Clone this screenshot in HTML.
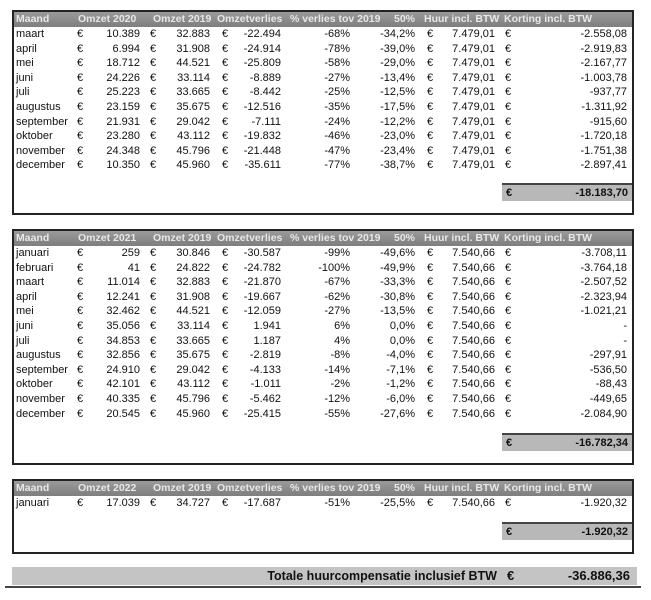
<!DOCTYPE html>
<html><head><meta charset="utf-8"><style>
body{margin:0;width:651px;height:600px;background:#fff;position:relative;overflow:hidden;font-family:"Liberation Sans",sans-serif;font-size:11px;color:#111}
.box{position:absolute;left:12px;width:622px;border:2px solid #222;box-sizing:border-box}
.r{position:absolute;left:0;height:14.6px;line-height:14.6px;width:100%}
.r span{position:absolute;white-space:nowrap}
.h{background:linear-gradient(#9a9a9a,#7e7e7e);color:#e8e8e8;height:15px;line-height:15px;top:0;font-weight:bold;font-size:10.5px}
.tot{position:absolute;left:488px;width:130px;height:16px;line-height:16px;background:#b8b8b8;border-top:2px solid #444;font-weight:bold}
.c1{left:2px}.c2{left:63px}.c3{right:492px}.c4{left:136px}.c5{right:422px}.c6{left:208px}.c7{right:351px}.c8{right:282px}.c9{right:217px}.c10{left:413px}.c11{right:137px}.c12{left:491px}.c13{right:5px}
</style></head><body>

<div class="box" style="top:10px;height:205px">
<div class="r h"><span style="left:2px">Maand</span><span style="left:64px">Omzet 2020</span><span style="left:139px">Omzet 2019</span><span style="left:203px">Omzetverlies</span><span style="left:276px">% verlies tov 2019</span><span style="left:380px">50%</span><span style="left:410px">Huur incl. BTW</span><span style="left:490px">Korting incl. BTW</span></div>
<div class="r" style="top:15px"><span class="c1">maart</span><span class="c2">€</span><span class="c3">10.389</span><span class="c4">€</span><span class="c5">32.883</span><span class="c6">€</span><span class="c7">-22.494</span><span class="c8">-68%</span><span class="c9">-34,2%</span><span class="c10">€</span><span class="c11">7.479,01</span><span class="c12">€</span><span class="c13">-2.558,08</span></div>
<div class="r" style="top:29.6px"><span class="c1">april</span><span class="c2">€</span><span class="c3">6.994</span><span class="c4">€</span><span class="c5">31.908</span><span class="c6">€</span><span class="c7">-24.914</span><span class="c8">-78%</span><span class="c9">-39,0%</span><span class="c10">€</span><span class="c11">7.479,01</span><span class="c12">€</span><span class="c13">-2.919,83</span></div>
<div class="r" style="top:44.2px"><span class="c1">mei</span><span class="c2">€</span><span class="c3">18.712</span><span class="c4">€</span><span class="c5">44.521</span><span class="c6">€</span><span class="c7">-25.809</span><span class="c8">-58%</span><span class="c9">-29,0%</span><span class="c10">€</span><span class="c11">7.479,01</span><span class="c12">€</span><span class="c13">-2.167,77</span></div>
<div class="r" style="top:58.8px"><span class="c1">juni</span><span class="c2">€</span><span class="c3">24.226</span><span class="c4">€</span><span class="c5">33.114</span><span class="c6">€</span><span class="c7">-8.889</span><span class="c8">-27%</span><span class="c9">-13,4%</span><span class="c10">€</span><span class="c11">7.479,01</span><span class="c12">€</span><span class="c13">-1.003,78</span></div>
<div class="r" style="top:73.4px"><span class="c1">juli</span><span class="c2">€</span><span class="c3">25.223</span><span class="c4">€</span><span class="c5">33.665</span><span class="c6">€</span><span class="c7">-8.442</span><span class="c8">-25%</span><span class="c9">-12,5%</span><span class="c10">€</span><span class="c11">7.479,01</span><span class="c12">€</span><span class="c13">-937,77</span></div>
<div class="r" style="top:88px"><span class="c1">augustus</span><span class="c2">€</span><span class="c3">23.159</span><span class="c4">€</span><span class="c5">35.675</span><span class="c6">€</span><span class="c7">-12.516</span><span class="c8">-35%</span><span class="c9">-17,5%</span><span class="c10">€</span><span class="c11">7.479,01</span><span class="c12">€</span><span class="c13">-1.311,92</span></div>
<div class="r" style="top:102.6px"><span class="c1">september</span><span class="c2">€</span><span class="c3">21.931</span><span class="c4">€</span><span class="c5">29.042</span><span class="c6">€</span><span class="c7">-7.111</span><span class="c8">-24%</span><span class="c9">-12,2%</span><span class="c10">€</span><span class="c11">7.479,01</span><span class="c12">€</span><span class="c13">-915,60</span></div>
<div class="r" style="top:117.2px"><span class="c1">oktober</span><span class="c2">€</span><span class="c3">23.280</span><span class="c4">€</span><span class="c5">43.112</span><span class="c6">€</span><span class="c7">-19.832</span><span class="c8">-46%</span><span class="c9">-23,0%</span><span class="c10">€</span><span class="c11">7.479,01</span><span class="c12">€</span><span class="c13">-1.720,18</span></div>
<div class="r" style="top:131.8px"><span class="c1">november</span><span class="c2">€</span><span class="c3">24.348</span><span class="c4">€</span><span class="c5">45.796</span><span class="c6">€</span><span class="c7">-21.448</span><span class="c8">-47%</span><span class="c9">-23,4%</span><span class="c10">€</span><span class="c11">7.479,01</span><span class="c12">€</span><span class="c13">-1.751,38</span></div>
<div class="r" style="top:146.4px"><span class="c1">december</span><span class="c2">€</span><span class="c3">10.350</span><span class="c4">€</span><span class="c5">45.960</span><span class="c6">€</span><span class="c7">-35.611</span><span class="c8">-77%</span><span class="c9">-38,7%</span><span class="c10">€</span><span class="c11">7.479,01</span><span class="c12">€</span><span class="c13">-2.897,41</span></div>
<div class="tot" style="top:171px"><span style="position:absolute;left:4px">€</span><span style="position:absolute;right:4px">-18.183,70</span></div>
</div>

<div class="box" style="top:229px;height:236px">
<div class="r h"><span style="left:2px">Maand</span><span style="left:64px">Omzet 2021</span><span style="left:139px">Omzet 2019</span><span style="left:203px">Omzetverlies</span><span style="left:276px">% verlies tov 2019</span><span style="left:380px">50%</span><span style="left:410px">Huur incl. BTW</span><span style="left:490px">Korting incl. BTW</span></div>
<div class="r" style="top:15px"><span class="c1">januari</span><span class="c2">€</span><span class="c3">259</span><span class="c4">€</span><span class="c5">30.846</span><span class="c6">€</span><span class="c7">-30.587</span><span class="c8">-99%</span><span class="c9">-49,6%</span><span class="c10">€</span><span class="c11">7.540,66</span><span class="c12">€</span><span class="c13">-3.708,11</span></div>
<div class="r" style="top:29.6px"><span class="c1">februari</span><span class="c2">€</span><span class="c3">41</span><span class="c4">€</span><span class="c5">24.822</span><span class="c6">€</span><span class="c7">-24.782</span><span class="c8">-100%</span><span class="c9">-49,9%</span><span class="c10">€</span><span class="c11">7.540,66</span><span class="c12">€</span><span class="c13">-3.764,18</span></div>
<div class="r" style="top:44.2px"><span class="c1">maart</span><span class="c2">€</span><span class="c3">11.014</span><span class="c4">€</span><span class="c5">32.883</span><span class="c6">€</span><span class="c7">-21.870</span><span class="c8">-67%</span><span class="c9">-33,3%</span><span class="c10">€</span><span class="c11">7.540,66</span><span class="c12">€</span><span class="c13">-2.507,52</span></div>
<div class="r" style="top:58.8px"><span class="c1">april</span><span class="c2">€</span><span class="c3">12.241</span><span class="c4">€</span><span class="c5">31.908</span><span class="c6">€</span><span class="c7">-19.667</span><span class="c8">-62%</span><span class="c9">-30,8%</span><span class="c10">€</span><span class="c11">7.540,66</span><span class="c12">€</span><span class="c13">-2.323,94</span></div>
<div class="r" style="top:73.4px"><span class="c1">mei</span><span class="c2">€</span><span class="c3">32.462</span><span class="c4">€</span><span class="c5">44.521</span><span class="c6">€</span><span class="c7">-12.059</span><span class="c8">-27%</span><span class="c9">-13,5%</span><span class="c10">€</span><span class="c11">7.540,66</span><span class="c12">€</span><span class="c13">-1.021,21</span></div>
<div class="r" style="top:88px"><span class="c1">juni</span><span class="c2">€</span><span class="c3">35.056</span><span class="c4">€</span><span class="c5">33.114</span><span class="c6">€</span><span class="c7">1.941</span><span class="c8">6%</span><span class="c9">0,0%</span><span class="c10">€</span><span class="c11">7.540,66</span><span class="c12">€</span><span class="c13">-</span></div>
<div class="r" style="top:102.6px"><span class="c1">juli</span><span class="c2">€</span><span class="c3">34.853</span><span class="c4">€</span><span class="c5">33.665</span><span class="c6">€</span><span class="c7">1.187</span><span class="c8">4%</span><span class="c9">0,0%</span><span class="c10">€</span><span class="c11">7.540,66</span><span class="c12">€</span><span class="c13">-</span></div>
<div class="r" style="top:117.2px"><span class="c1">augustus</span><span class="c2">€</span><span class="c3">32.856</span><span class="c4">€</span><span class="c5">35.675</span><span class="c6">€</span><span class="c7">-2.819</span><span class="c8">-8%</span><span class="c9">-4,0%</span><span class="c10">€</span><span class="c11">7.540,66</span><span class="c12">€</span><span class="c13">-297,91</span></div>
<div class="r" style="top:131.8px"><span class="c1">september</span><span class="c2">€</span><span class="c3">24.910</span><span class="c4">€</span><span class="c5">29.042</span><span class="c6">€</span><span class="c7">-4.133</span><span class="c8">-14%</span><span class="c9">-7,1%</span><span class="c10">€</span><span class="c11">7.540,66</span><span class="c12">€</span><span class="c13">-536,50</span></div>
<div class="r" style="top:146.4px"><span class="c1">oktober</span><span class="c2">€</span><span class="c3">42.101</span><span class="c4">€</span><span class="c5">43.112</span><span class="c6">€</span><span class="c7">-1.011</span><span class="c8">-2%</span><span class="c9">-1,2%</span><span class="c10">€</span><span class="c11">7.540,66</span><span class="c12">€</span><span class="c13">-88,43</span></div>
<div class="r" style="top:161px"><span class="c1">november</span><span class="c2">€</span><span class="c3">40.335</span><span class="c4">€</span><span class="c5">45.796</span><span class="c6">€</span><span class="c7">-5.462</span><span class="c8">-12%</span><span class="c9">-6,0%</span><span class="c10">€</span><span class="c11">7.540,66</span><span class="c12">€</span><span class="c13">-449,65</span></div>
<div class="r" style="top:175.6px"><span class="c1">december</span><span class="c2">€</span><span class="c3">20.545</span><span class="c4">€</span><span class="c5">45.960</span><span class="c6">€</span><span class="c7">-25.415</span><span class="c8">-55%</span><span class="c9">-27,6%</span><span class="c10">€</span><span class="c11">7.540,66</span><span class="c12">€</span><span class="c13">-2.084,90</span></div>
<div class="tot" style="top:202px"><span style="position:absolute;left:4px">€</span><span style="position:absolute;right:4px">-16.782,34</span></div>
</div>

<div class="box" style="top:479px;height:75px">
<div class="r h"><span style="left:2px">Maand</span><span style="left:64px">Omzet 2022</span><span style="left:139px">Omzet 2019</span><span style="left:203px">Omzetverlies</span><span style="left:276px">% verlies tov 2019</span><span style="left:380px">50%</span><span style="left:410px">Huur incl. BTW</span><span style="left:490px">Korting incl. BTW</span></div>
<div class="r" style="top:15px"><span class="c1">januari</span><span class="c2">€</span><span class="c3">17.039</span><span class="c4">€</span><span class="c5">34.727</span><span class="c6">€</span><span class="c7">-17.687</span><span class="c8">-51%</span><span class="c9">-25,5%</span><span class="c10">€</span><span class="c11">7.540,66</span><span class="c12">€</span><span class="c13">-1.920,32</span></div>
<div class="tot" style="top:41px"><span style="position:absolute;left:4px">€</span><span style="position:absolute;right:4px">-1.920,32</span></div>
</div>

<div style="position:absolute;left:12px;top:567px;width:625px;height:18px;background:#c4c4c4"></div>
<div style="position:absolute;left:5px;top:586px;width:636px;height:2px;background:#444"></div>
<div style="position:absolute;right:154px;top:567px;height:18px;line-height:18px;font-size:12.5px;font-weight:bold;white-space:nowrap">Totale huurcompensatie inclusief BTW</div>
<div style="position:absolute;left:507px;top:567px;height:18px;line-height:18px;font-size:13px;font-weight:bold">€</div>
<div style="position:absolute;right:21px;top:567px;height:18px;line-height:18px;font-size:13px;font-weight:bold">-36.886,36</div>
</body></html>
